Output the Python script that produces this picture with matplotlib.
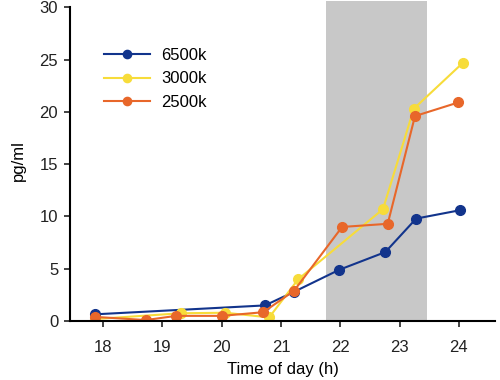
import matplotlib
matplotlib.use("Agg")
import matplotlib.pyplot as plt

plt.rcParams['font.family'] = ['Liberation Sans', 'DejaVu Sans']

series_names = ["6500k", "3000k", "2500k"]
colors = ["#12348c", "#f7dc3a", "#e8672a"]

x_6500 = [17.87, 20.73, 21.22, 21.98, 22.76, 23.28, 24.02]
y_6500 = [0.65, 1.5, 2.8, 4.9, 6.6, 9.8, 10.6]

x_3000 = [17.87, 19.31, 20.06, 20.8, 21.29, 22.72, 23.24, 24.07]
y_3000 = [0.2, 0.75, 0.8, 0.35, 4.0, 10.7, 20.3, 24.7]

x_2500 = [17.87, 18.72, 19.23, 20.0, 20.7, 21.22, 22.03, 22.8, 23.26, 23.99]
y_2500 = [0.4, 0.1, 0.5, 0.5, 0.85, 2.9, 9.0, 9.3, 19.6, 20.9]

shade_span = [21.76, 23.46]
xticks = [18, 19, 20, 21, 22, 23, 24]
yticks = [0, 5, 10, 15, 20, 25, 30]

fig = plt.figure(figsize=(5, 3.8), dpi=100)
ax = fig.add_axes([0.14, 0.155, 0.85, 0.845 - 1/380])

ax.axvspan(shade_span[0], shade_span[1], color="#c8c8c8", lw=0, zorder=0)

for xs, ys, name, c in zip([x_6500, x_3000, x_2500], [y_6500, y_3000, y_2500], series_names, colors):
    ax.plot(xs, ys, color=c, lw=1.5, marker='o', markersize=7, label=name, zorder=2)

ax.set_xlim(17.44, 24.61)
ax.set_ylim(0, 30.6)
ax.set_xticks(xticks)
ax.set_yticks(yticks)
ax.spines['top'].set_visible(False)
ax.spines['right'].set_visible(False)
ax.spines['left'].set_bounds(0, 30)
ax.spines['left'].set_linewidth(1.5)
ax.spines['bottom'].set_linewidth(1.5)
ax.tick_params(axis='both', direction='out', length=4.5, width=1.2, labelsize=12, colors='#222222')
ax.tick_params(axis='x', pad=9)
ax.tick_params(axis='y', pad=4)
ax.set_xlabel("Time of day (h)", fontsize=12, labelpad=5.5)
ax.set_ylabel("pg/ml", fontsize=12, labelpad=10)

leg = ax.legend(loc='upper left', bbox_to_anchor=(0.079, 0.854), frameon=False, fontsize=12,
                handlelength=2.8, handletextpad=0.66, labelspacing=0.52, markerscale=0.85,
                borderaxespad=0, borderpad=0)

fig.savefig("out.png", dpi=100)
